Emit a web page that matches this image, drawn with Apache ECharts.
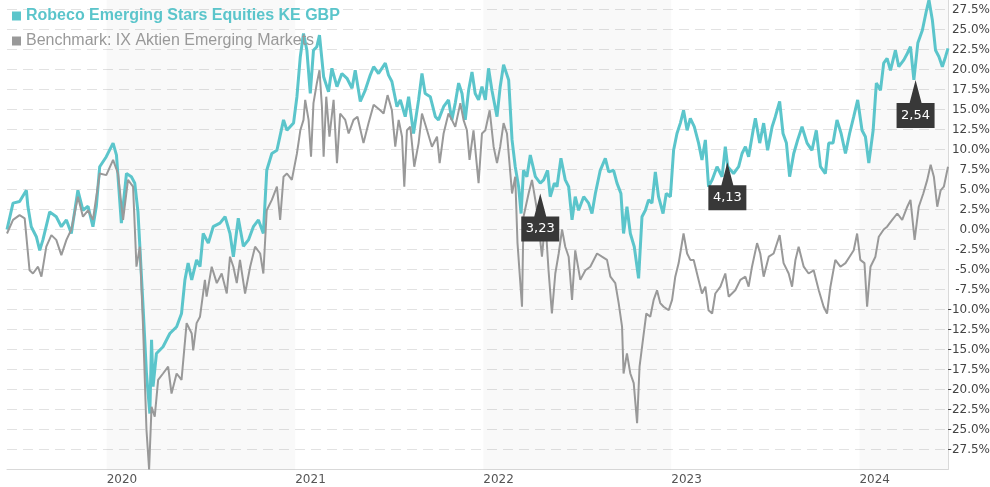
<!DOCTYPE html>
<html>
<head>
<meta charset="utf-8">
<script src="https://cdn.jsdelivr.net/npm/echarts/dist/echarts.min.js"></script>
<style>html,body{margin:0;padding:0;background:#fff}#chart{width:990px;height:487px}</style>
</head>
<body>
<div id="chart"></div>
<script>
// Dates as decimal years
const robecoDates = [
2019.470,2019.502,2019.537,2019.573,2019.581,2019.599,2019.626,2019.644,2019.661,2019.697,
2019.732,2019.759,2019.786,2019.812,2019.847,2019.874,2019.901,2019.927,2019.945,2019.963,
2019.998,2020.034,2020.052,2020.078,2020.105,2020.131,2020.149,2020.166,2020.176,2020.193,
2020.211,2020.229,2020.238,2020.246,2020.264,2020.299,2020.335,2020.371,2020.397,2020.415,
2020.432,2020.451,2020.477,2020.495,2020.512,2020.539,2020.565,2020.601,2020.628,2020.654,
2020.672,2020.698,2020.725,2020.752,2020.778,2020.805,2020.831,2020.849,2020.876,2020.903,
2020.938,2020.956,2020.991,2021.009,2021.027,2021.044,2021.062,2021.080,2021.097,2021.115,
2021.129,2021.151,2021.177,2021.195,2021.222,2021.248,2021.275,2021.302,2021.319,2021.346,
2021.372,2021.399,2021.417,2021.443,2021.479,2021.496,2021.514,2021.541,2021.559,2021.585,
2021.603,2021.629,2021.656,2021.674,2021.691,2021.718,2021.745,2021.762,2021.789,2021.815,
2021.833,2021.851,2021.869,2021.887,2021.904,2021.922,2021.940,2021.957,2021.975,2021.993,
2022.011,2022.028,2022.046,2022.073,2022.090,2022.108,2022.135,2022.153,2022.170,2022.188,
2022.201,2022.214,2022.232,2022.250,2022.277,2022.303,2022.321,2022.342,2022.356,2022.378,
2022.392,2022.413,2022.436,2022.454,2022.472,2022.489,2022.507,2022.534,2022.560,2022.578,
2022.596,2022.622,2022.649,2022.667,2022.693,2022.711,2022.732,2022.746,2022.764,2022.782,
2022.803,2022.826,2022.844,2022.862,2022.879,2022.897,2022.915,2022.932,2022.956,2022.973,
2022.995,2023.012,2023.030,2023.048,2023.065,2023.084,2023.101,2023.122,2023.145,2023.163,
2023.181,2023.198,2023.217,2023.243,2023.270,2023.287,2023.300,2023.331,2023.358,2023.376,
2023.394,2023.411,2023.435,2023.447,2023.470,2023.491,2023.512,2023.536,2023.553,2023.576,
2023.594,2023.612,2023.629,2023.651,2023.672,2023.695,2023.722,2023.748,2023.771,2023.793,
2023.819,2023.837,2023.860,2023.881,2023.903,2023.926,2023.948,2023.970,2023.991,2024.014,
2024.032,2024.050,2024.073,2024.090,2024.112,2024.129,2024.147,2024.165,2024.191,2024.209,
2024.236,2024.254,2024.271,2024.289,2024.310,2024.334,2024.356,2024.369,2024.387,2024.404,
2024.422,2024.440,2024.457,2024.470
];
const robecoValues = [
0.0,3.3,3.5,4.9,2.9,0.35,-0.9,-2.6,-1.3,2.2,
1.6,0.35,1.2,-0.5,4.9,2.4,2.9,0.35,2.9,7.85,
9.1,10.8,9.3,0.8,7.0,6.6,5.8,2.2,-2.1,-9.65,
-18,-23,-13.8,-19.65,-15.5,-14.65,-13,-12.15,-10.5,-6.3,
-4.2,-6.3,-3.8,-4.65,-0.5,-1.7,0.35,0.8,1.6,-0.5,
-3.4,1.4,-2.1,-1.3,0.35,1.2,-0.5,7.4,9.5,9.9,
13.7,12.4,13.3,16.6,21.6,24.5,22.4,17,22.4,22.85,
24.3,19.1,17.2,20.15,17.85,19.5,18.9,17.65,19.9,16,
17.4,19.3,20.35,19.5,20.8,19.3,18.5,15.35,16.2,14.1,
16.6,12,16.2,19.5,17,16.6,14.1,13.7,15.35,16.2,
13.7,15.8,18.3,17,13.7,17.4,19.7,17,16.2,17.85,
16.2,20.15,17.4,14.1,17.85,20.6,18.7,11.2,7.85,5.35,
2.0,7.4,6.6,9.3,6.6,5.8,6.2,7.4,4.1,5.8,
5.35,8.9,6.2,5.35,1.2,4.1,2.4,4.1,3.3,2.0,
4.5,7.4,8.9,7.2,7.4,5.8,4.5,-0.5,2.85,-0.5,
-2.15,-6.1,1.6,2.4,3.7,3.3,7.2,4.1,2.0,4.5,
4.1,9.9,12,13.3,14.9,12.4,13.9,12.85,10.8,8.7,
11.2,5.35,6.2,7.85,6.6,10.35,7.85,7.0,7.85,9.5,
10.35,9.1,12.4,13.9,10.8,13.3,9.9,12.85,14.1,16,
12,10.8,6.6,9.5,11.2,12.85,10.8,9.9,12.4,7.85,
7.0,10.8,10.8,13.7,12,9.5,12,14.1,16.2,12.4,
11.6,8.3,12.4,18.3,17.4,20.8,21.4,19.9,22.4,20.35,
21.2,22,22.85,18.7,23.3,24.9,27.4,28.7,26.2,22.4,
21.6,20.35,21.6,22.65
];
const benchDates = [
2019.470,2019.502,2019.537,2019.564,2019.590,2019.608,2019.635,2019.653,2019.679,2019.706,
2019.732,2019.759,2019.786,2019.812,2019.847,2019.874,2019.901,2019.927,2019.963,2019.998,
2020.034,2020.060,2020.087,2020.113,2020.140,2020.158,2020.176,2020.193,2020.211,2020.225,
2020.238,2020.255,2020.273,2020.299,2020.326,2020.344,2020.371,2020.397,2020.424,2020.451,
2020.459,2020.477,2020.495,2020.521,2020.530,2020.557,2020.584,2020.610,2020.637,2020.654,
2020.672,2020.690,2020.707,2020.734,2020.761,2020.787,2020.814,2020.831,2020.849,2020.876,
2020.903,2020.920,2020.938,2020.956,2020.982,2021.009,2021.027,2021.044,2021.053,2021.071,
2021.084,2021.097,2021.115,2021.129,2021.142,2021.151,2021.165,2021.182,2021.204,2021.222,
2021.239,2021.266,2021.284,2021.310,2021.331,2021.363,2021.390,2021.417,2021.452,2021.470,
2021.491,2021.514,2021.532,2021.550,2021.568,2021.580,2021.594,2021.612,2021.633,2021.656,
2021.674,2021.701,2021.727,2021.754,2021.768,2021.789,2021.815,2021.833,2021.851,2021.878,
2021.895,2021.913,2021.927,2021.948,2021.975,2021.993,2022.011,2022.034,2022.055,2022.073,
2022.090,2022.108,2022.126,2022.153,2022.170,2022.182,2022.206,2022.214,2022.241,2022.259,
2022.286,2022.312,2022.330,2022.347,2022.365,2022.383,2022.401,2022.419,2022.436,2022.454,
2022.472,2022.489,2022.516,2022.543,2022.569,2022.605,2022.631,2022.658,2022.676,2022.702,
2022.720,2022.738,2022.746,2022.764,2022.782,2022.800,2022.818,2022.831,2022.849,2022.867,
2022.888,2022.906,2022.924,2022.941,2022.959,2022.986,2023.004,2023.021,2023.039,2023.065,
2023.084,2023.101,2023.119,2023.145,2023.163,2023.181,2023.198,2023.217,2023.234,2023.261,
2023.287,2023.305,2023.340,2023.367,2023.394,2023.411,2023.429,2023.456,2023.473,2023.491,
2023.518,2023.544,2023.576,2023.597,2023.624,2023.642,2023.660,2023.677,2023.704,2023.730,
2023.757,2023.784,2023.810,2023.828,2023.846,2023.872,2023.899,2023.926,2023.948,2023.970,
2023.988,2024.005,2024.027,2024.041,2024.059,2024.085,2024.103,2024.129,2024.147,2024.174,
2024.201,2024.227,2024.254,2024.271,2024.293,2024.315,2024.339,2024.360,2024.378,2024.395,
2024.413,2024.431,2024.448,2024.470
];
const benchValues = [
-0.5,1.2,1.8,1.4,-5.1,-5.5,-4.65,-5.9,-2.15,-0.7,
-1.3,-3.2,-1.3,0.0,4.1,1.6,2.4,1.2,7.0,6.8,
8.7,7.0,1.2,6.2,5.35,-4.65,-2.15,-12.15,-25,-30,
-22.15,-23.4,-18.8,-18,-17.15,-20.5,-18,-18.8,-11.7,-13,
-15.1,-11.7,-10.9,-6.3,-8.4,-4.65,-6.7,-5.5,-8,-3.4,
-4.65,-6.7,-3.8,-8,-4.65,-2.15,-3,-5.5,2.4,3.7,
5.35,1.2,6.6,7.0,6.2,9.5,12.4,13.7,16.2,13.7,
9.1,15.8,18.3,19.9,15.35,9.1,16.6,11.6,16.2,8.3,
14.5,13.7,12,13.7,14.1,10.8,13.3,15.6,14.9,14.5,
16.8,14.9,10.35,13.7,11.6,5.35,12.4,12.85,7.85,10.8,
14.5,12.4,10.35,11.6,8.3,12,14.5,13.7,12.85,15.8,
13.7,12.4,8.7,12.4,5.8,12,12.4,14.9,10.35,8.3,
10.35,13.3,12,4.5,6.6,-1.7,-9.65,1.6,4.5,6.2,
2.4,-3.4,1.2,-5.1,-10.5,-5.5,-3,0,-2.15,-3.4,
-8.8,-2.6,-6.3,-5.1,-4.65,-3,-3.4,-3.8,-5.9,-6.7,
-9.2,-12.15,-18,-15.5,-18,-19.2,-24.2,-17.15,-13.8,-10.5,
-10.9,-8.8,-7.6,-9.2,-9.65,-10.1,-8.8,-5.9,-4.2,-0.5,
-3,-3.8,-3.8,-6.3,-8,-7.15,-10.1,-10.5,-8,-7.15,
-5.5,-8.4,-7.6,-6.3,-5.9,-7.15,-4.65,-1.7,-3,-5.9,
-3.4,-3,-0.7,-4.2,-5.5,-7.15,-3.8,-2.15,-4.65,-5.5,
-5.1,-7.6,-9.65,-10.5,-7.15,-3.8,-4.65,-4.2,-3.4,-2.6,
-0.5,-3.8,-4.2,-9.65,-4.65,-3.4,-0.9,0.0,0.35,1.2,
2.0,1.2,2.85,3.7,-1.3,2.85,4.5,6.2,8.1,6.6,
2.85,4.9,5.35,7.85
];
const dividendDates = [2022.303, 2023.298, 2024.298];
const dividendValues = [4.5, 8.4, 18.7];
const dividendLabels = ['3,23', '4,13', '2,54'];
const shadedYears = [2020, 2022, 2024];
const seriesNames = ['Robeco Emerging Stars Equities KE GBP', 'Benchmark: IX Aktien Emerging Markets'];
const yMin = -30, yMax = 30, yStep = 2.5;

const TEAL = '#5bc5cb', GREY = '#999999';
function toTs(y) {
  const yr = Math.floor(y);
  const a = new Date(yr, 0, 1).getTime();
  const b = new Date(yr + 1, 0, 1).getTime();
  return a + (y - yr) * (b - a);
}
const xMin = toTs(robecoDates[0]);
const xMax = toTs(robecoDates[robecoDates.length - 1]);

const chart = echarts.init(document.getElementById('chart'), null, {renderer: 'canvas'});
chart.setOption({
  animation: false,
  backgroundColor: '#ffffff',
  grid: {left: 7, right: 42, top: -10.5, bottom: 17.5, containLabel: false, outerBoundsMode: 'none'},
  legend: {
    orient: 'vertical', left: 7, top: 3, itemWidth: 9, itemHeight: 9, itemGap: 9,
    icon: 'rect', selectedMode: false,
    textStyle: {fontFamily: 'Liberation Sans', fontSize: 16, lineHeight: 16},
    data: [
      {name: seriesNames[0], textStyle: {color: TEAL, fontWeight: 'bold'}},
      {name: seriesNames[1], textStyle: {color: GREY, fontWeight: 'normal'}}
    ]
  },
  xAxis: {
    type: 'time', min: xMin, max: xMax,
    minInterval: 364 * 86400000,
    axisLine: {show: true, onZero: false, lineStyle: {color: '#d9d9d9'}},
    axisTick: {show: false},
    splitLine: {show: false},
    axisLabel: {
      align: 'left', margin: 4, color: '#555', fontFamily: 'DejaVu Sans', fontSize: 12,
      hideOverlap: false,
      formatter: function (v) {
        const d = new Date(v);
        return (d.getMonth() === 0 && d.getDate() === 1) ? String(d.getFullYear()) : '';
      }
    }
  },
  yAxis: {
    type: 'value', position: 'right', min: yMin, max: yMax, interval: yStep,
    axisLine: {show: true, onZero: false, lineStyle: {color: '#d9d9d9'}},
    axisTick: {show: false},
    splitLine: {show: true, lineStyle: {color: '#e2e2e2', type: [10, 6]}},
    axisLabel: {
      align: 'right', margin: 42, color: '#444', fontFamily: 'DejaVu Sans', fontSize: 12,
      formatter: function (v) { return Math.abs(v) >= 29.99 ? '' : v.toFixed(1) + '%'; }
    }
  },
  series: [
    {
      name: seriesNames[0], type: 'line', showSymbol: false, symbol: 'none', z: 2,
      lineStyle: {color: TEAL, width: 3}, itemStyle: {color: TEAL},
      emphasis: {disabled: true},
      data: robecoDates.map((d, i) => [toTs(d), robecoValues[i]]),
      markArea: {
        silent: true,
        itemStyle: {color: 'rgba(0,0,0,0.025)'},
        data: shadedYears.map(y => [{xAxis: toTs(y)}, {xAxis: Math.min(toTs(y + 1), xMax)}])
      }
    },
    {
      name: seriesNames[1], type: 'line', showSymbol: false, symbol: 'none', z: 3,
      lineStyle: {color: GREY, width: 2}, itemStyle: {color: GREY},
      emphasis: {disabled: true},
      data: benchDates.map((d, i) => [toTs(d), benchValues[i]])
    },
    {
      name: 'Dividend', type: 'scatter', z: 10, silent: true,
      symbol: 'path://M19,0 L25,23 L38,23 L38,48 L0,48 L0,23 L13,23 Z',
      symbolSize: [38, 48], symbolOffset: [0, 24],
      itemStyle: {color: '#383838', opacity: 1},
      label: {
        show: true, position: 'inside', offset: [0, 11.5],
        color: '#ffffff', fontFamily: 'DejaVu Sans', fontSize: 13,
        formatter: p => dividendLabels[p.dataIndex]
      },
      data: dividendDates.map((d, i) => [toTs(d), dividendValues[i]])
    }
  ]
});
</script>
</body>
</html>
